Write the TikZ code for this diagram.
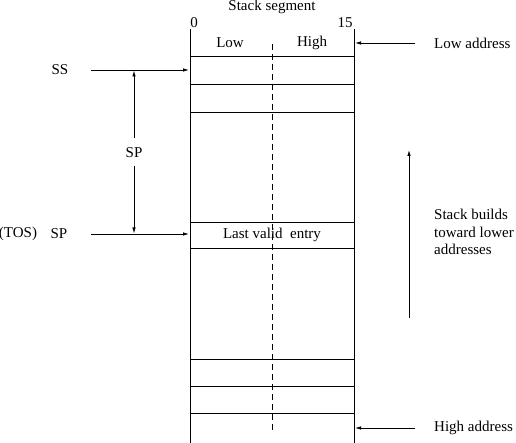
\documentclass[tikz,border=0pt]{standalone}
\usepackage{fontspec}
\setmainfont{Liberation Serif}
\usetikzlibrary{arrows.meta}
\begin{document}
\begin{tikzpicture}[x=1pt,y=-1pt,
  ln/.style={line width=0.8pt},
  arr/.style={ln,-{Latex[length=6pt,width=3.5pt]}},
  lbl/.style={inner sep=0pt,font=\fontsize{15}{17.5}\selectfont},
  lbll/.style={lbl,anchor=west}]
\useasboundingbox (0,0) rectangle (516,443);
% frame
\draw[ln] (190,29) -- (190,443);
\draw[ln] (354,29) -- (354,443);
\draw[ln,dash pattern=on 6pt off 4pt] (272.5,44) -- (272.5,432);
\foreach \yy in {56.5,84.5,112.5,222.5,248.5,359.5,386.5,413.5}
  \draw[ln] (190,\yy) -- (354,\yy);
% texts
\node[lbl] (title) at (272,7) {Stack segment};
\node[lbl] (zero) at (194,23) {0};
\node[lbl] (fifteen) at (345,23) {15};
\node[lbl] (low) at (230,43) {Low};
\node[lbl] (high) at (312,43) {High};
\node[lbl] (entry) at (272,235) {Last valid\ \ entry};
% right side
\coordinate (ra1) at (415,43);
\coordinate (rb1) at (355,43);
\draw[arr] (ra1) -- (rb1);
\node[lbll] (lowaddr) at (434,43) {Low address};
\coordinate (ra2) at (415,428);
\coordinate (rb2) at (355,428);
\draw[arr] (ra2) -- (rb2);
\node[lbll] (highaddr) at (434,428) {High address};
\coordinate (ua) at (409,318);
\coordinate (ub) at (409,150);
\draw[arr] (ua) -- (ub);
\node[lbll,align=left] (builds) at (434,232) {Stack builds\\toward lower\\addresses};
% left side
\node[lbl] (ss) at (60,70) {SS};
\coordinate (ssa) at (91,70);
\coordinate (ssb) at (189,70);
\draw[arr] (ssa) -- (ssb);
\node[lbl] (tos) at (18,234) {(TOS)};
\node[lbl] (sp2) at (59,234) {SP};
\coordinate (spa) at (91,234);
\coordinate (spb) at (189,234);
\draw[arr] (spa) -- (spb);
\node[lbl] (sp) at (134,153) {SP};
\coordinate (vt) at (134,70.5);
\coordinate (vb) at (134,233.5);
\draw[arr] (134,138) -- (vt);
\draw[arr] (134,166) -- (vb);
\end{tikzpicture}
\end{document}
